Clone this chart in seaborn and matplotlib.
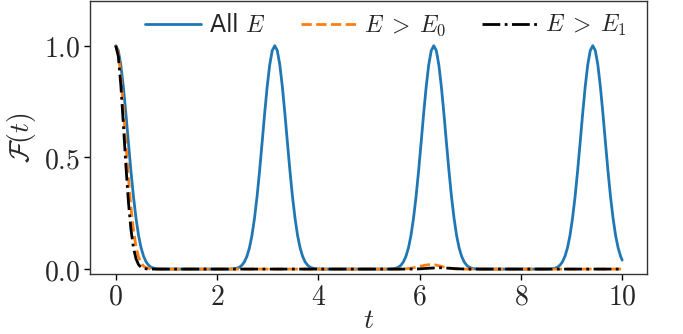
import matplotlib
matplotlib.use("Agg")
import matplotlib.pyplot as plt
import seaborn as sns
from matplotlib.ticker import FuncFormatter

# ---- data ----
t_all = [0.0, 0.05, 0.1, 0.15, 0.2, 0.25, 0.3, 0.35, 0.4, 0.45, 0.5, 0.55, 0.6, 0.65, 0.7, 0.75, 0.8, 0.9,
         2.24, 2.34, 2.39, 2.44, 2.49, 2.54, 2.59, 2.64, 2.69, 2.74, 2.79, 2.84, 2.89, 2.94, 2.99, 3.04, 3.09, 3.14,
         3.19, 3.24, 3.29, 3.34, 3.39, 3.44, 3.49, 3.54, 3.59, 3.64, 3.69, 3.74, 3.79, 3.84, 3.89, 3.94, 4.04,
         5.38, 5.48, 5.53, 5.58, 5.63, 5.68, 5.73, 5.78, 5.83, 5.88, 5.93, 5.98, 6.03, 6.08, 6.13, 6.18, 6.23, 6.28,
         6.33, 6.38, 6.43, 6.48, 6.53, 6.58, 6.63, 6.68, 6.73, 6.78, 6.83, 6.88, 6.93, 6.98, 7.03, 7.08, 7.18,
         8.52, 8.62, 8.67, 8.72, 8.77, 8.82, 8.87, 8.92, 8.97, 9.02, 9.07, 9.12, 9.17, 9.22, 9.27, 9.32, 9.37, 9.42,
         9.47, 9.52, 9.57, 9.62, 9.67, 9.72, 9.77, 9.82, 9.87, 9.92, 9.97, 10.0]
f_all = [1.0, 0.978, 0.914, 0.816, 0.696, 0.566, 0.439, 0.324, 0.228, 0.151, 0.095, 0.057, 0.032, 0.017, 0.008, 0.004, 0.0015, 0.0,
         0.0, 0.0015, 0.004, 0.008, 0.017, 0.032, 0.057, 0.095, 0.151, 0.228, 0.324, 0.439, 0.566, 0.696, 0.816, 0.914, 0.978, 1.0,
         0.978, 0.914, 0.816, 0.696, 0.566, 0.439, 0.324, 0.228, 0.151, 0.095, 0.057, 0.032, 0.017, 0.008, 0.004, 0.0015, 0.0,
         0.0, 0.0015, 0.004, 0.008, 0.017, 0.032, 0.057, 0.095, 0.151, 0.228, 0.324, 0.439, 0.566, 0.696, 0.816, 0.914, 0.978, 1.0,
         0.978, 0.914, 0.816, 0.696, 0.566, 0.439, 0.324, 0.228, 0.151, 0.095, 0.057, 0.032, 0.017, 0.008, 0.004, 0.0015, 0.0,
         0.0, 0.0015, 0.004, 0.008, 0.017, 0.032, 0.057, 0.095, 0.151, 0.228, 0.324, 0.439, 0.566, 0.696, 0.816, 0.914, 0.978, 1.0,
         0.978, 0.914, 0.816, 0.696, 0.566, 0.439, 0.324, 0.228, 0.151, 0.095, 0.057, 0.04]

t_e0 = [0.0, 0.05, 0.1, 0.15, 0.2, 0.25, 0.3, 0.35, 0.4, 0.45, 0.5, 0.55, 0.6, 0.7, 0.8,
        5.6, 5.7, 5.8, 5.9, 6.0, 6.1, 6.2, 6.3, 6.4, 6.5, 6.6, 6.7, 6.8, 6.9, 10.0]
f_e0 = [1.0, 0.965, 0.867, 0.725, 0.564, 0.409, 0.276, 0.174, 0.101, 0.055, 0.028, 0.013, 0.006, 0.001, 0.0,
        0.0, 0.001, 0.003, 0.007, 0.012, 0.017, 0.020, 0.019, 0.014, 0.008, 0.004, 0.001, 0.0, 0.0, 0.0]

t_e1 = [0.0, 0.05, 0.1, 0.15, 0.2, 0.25, 0.3, 0.35, 0.4, 0.45, 0.5, 0.55, 0.6, 0.7,
        5.8, 6.0, 6.2, 6.4, 6.5, 6.7, 6.9, 10.0]
f_e1 = [1.0, 0.953, 0.825, 0.649, 0.464, 0.301, 0.178, 0.095, 0.046, 0.020, 0.008, 0.003, 0.001, 0.0,
        0.0, 0.001, 0.004, 0.006, 0.005, 0.002, 0.0, 0.0]

labels = [r"All $E$", r"$E\;>\;E_0$", r"$E\;>\;E_1$"]
x_ticks = [0, 2, 4, 6, 8, 10]
y_ticks = [0.0, 0.5, 1.0]

# ---- plotting ----
sns.set_style("ticks")
plt.rcParams["font.family"] = ["DejaVu Sans"]
plt.rcParams["mathtext.fontset"] = "cm"

fig = plt.figure(figsize=(6.83, 3.34), dpi=100)
ax = fig.add_axes([0.1324, 0.181, 0.8156, 0.816])

sns.lineplot(x=t_all, y=f_all, ax=ax, color="#1f77b4", linewidth=2, linestyle="-", label=labels[0])
sns.lineplot(x=t_e0, y=f_e0, ax=ax, color="#ff7f0e", linewidth=2, linestyle="--", label=labels[1])
sns.lineplot(x=t_e1, y=f_e1, ax=ax, color="black", linewidth=2, linestyle="-.", label=labels[2])

ax.set_xlim(-0.5, 10.5)
ax.set_ylim(-0.02, 1.2)
ax.set_xticks(x_ticks)
ax.set_yticks(y_ticks)
ax.xaxis.set_major_formatter(FuncFormatter(lambda v, p: r"$%g$" % v))
ax.yaxis.set_major_formatter(FuncFormatter(lambda v, p: r"$%.1f$" % v))
ax.tick_params(labelsize=20, length=4, width=1, color="black")
ax.tick_params(axis="x", pad=2.5)
for s in ax.spines.values():
    s.set_color("#333333")
    s.set_linewidth(1)

ax.set_xlabel(r"$t$", fontsize=20, labelpad=-3)
ax.set_ylabel(r"$\mathcal{F}(t)$", fontsize=20, labelpad=4)

ax.legend(loc="upper right", ncol=3, frameon=False, fontsize=17,
          handlelength=2.35, handletextpad=0.33, columnspacing=1.5,
          borderaxespad=0.1, bbox_to_anchor=(0.985, 1.0))

fig.savefig("out.png", dpi=100)
